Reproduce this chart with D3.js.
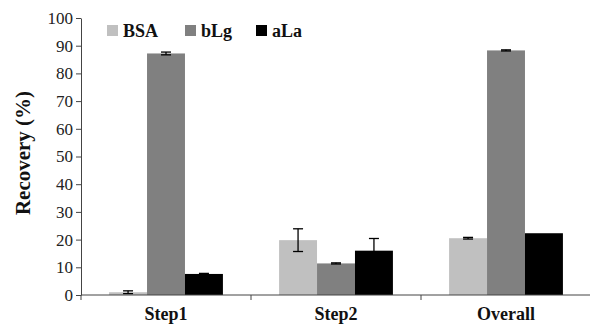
<!DOCTYPE html>
<html><head><meta charset="utf-8">
<script src="https://cdn.jsdelivr.net/npm/d3@7"></script>
<style>body{margin:0;background:#fff}svg{display:block}</style>
</head><body>
<script>
const categories = ["Step1", "Step2", "Overall"];
const seriesNames = ["BSA", "bLg", "aLa"];
const BSA = [1.0, 19.8, 20.5];
const bLg = [87.2, 11.4, 88.3];
const aLa = [7.6, 16.0, 22.3];
const BSA_err = [0.5, 4.1, 0.3];
const bLg_err = [0.5, 0.2, 0.2];
const aLa_err = [0.2, 4.4, 0];
const yTicks = [0,10,20,30,40,50,60,70,80,90,100];
const colors = ["#c0c0c0", "#808080", "#000000"];

const values = [BSA, bLg, aLa];
const errs = [BSA_err, bLg_err, aLa_err];
const W = 590, H = 326;
const FONT = '"Liberation Serif", "Times New Roman", serif';
const m = {left: 81, right: 0, top: 18, bottom: 31};
const svg = d3.select("body").append("svg").attr("width", W).attr("height", H);
const x = d3.scaleBand().domain(categories).range([m.left, 591]).paddingInner(0).paddingOuter(0);
const xs = d3.scaleBand().domain(seriesNames).range([0, x.bandwidth()]).paddingInner(0).paddingOuter(0.74);
const y = d3.scaleLinear().domain([0, 100]).range([H - m.bottom, m.top]);

// bars
seriesNames.forEach((s, si) => {
  const g = svg.append("g");
  g.selectAll("rect").data(categories).join("rect")
    .attr("x", c => x(c) + xs(s))
    .attr("width", xs.bandwidth())
    .attr("y", (c, i) => y(values[si][i]))
    .attr("height", (c, i) => y(0) - y(values[si][i]))
    .attr("fill", colors[si]);
  categories.forEach((c, i) => {
    const e = errs[si][i];
    if (e <= 0) return;
    const cx = x(c) + xs(s) + xs.bandwidth() / 2;
    const y1 = y(values[si][i] + e), y2 = y(values[si][i] - e);
    g.append("line").attr("x1", cx).attr("x2", cx).attr("y1", y1).attr("y2", y2).attr("stroke", "#000").attr("stroke-width", 1.3);
    [y1, y2].forEach(yy => g.append("line").attr("x1", cx - 5).attr("x2", cx + 5).attr("y1", yy).attr("y2", yy).attr("stroke", "#000").attr("stroke-width", 1.3));
  });
});

// y axis
const ya = svg.append("g").attr("transform", `translate(${m.left},0)`)
  .call(d3.axisLeft(y).tickValues(yTicks).tickSize(5).tickPadding(3).tickSizeOuter(0));
ya.selectAll("text").style("font-family", FONT).style("font-size", "17px").attr("fill", "#222");
ya.selectAll("line, path").attr("stroke", "#444");

// x axis
const xa = svg.append("g").attr("transform", `translate(0,${y(0)})`);
xa.append("line").attr("x1", m.left).attr("x2", 591).attr("y1", 0).attr("y2", 0).attr("stroke", "#444");
const bounds = categories.map(c => x(c)).concat([x(categories[categories.length-1]) + x.bandwidth()]);
xa.selectAll("line.sep").data(bounds).join("line").attr("class","sep")
  .attr("x1", d => d).attr("x2", d => d).attr("y1", 0).attr("y2", 5).attr("stroke", "#444");
xa.selectAll("text").data(categories).join("text")
  .attr("x", c => x(c) + x.bandwidth() / 2).attr("y", 25)
  .attr("text-anchor", "middle").style("font-family", FONT).style("font-weight", "bold")
  .style("font-size", "18px").attr("fill", "#111").text(c => c);

// y title
svg.append("text").attr("transform", `translate(30,153) rotate(-90)`)
  .attr("text-anchor", "middle").style("font-family", FONT).style("font-weight", "bold")
  .style("font-size", "21px").attr("fill", "#111").text("Recovery (%)");

// legend
const legX = [107, 185, 256];
seriesNames.forEach((s, i) => {
  svg.append("rect").attr("x", legX[i]).attr("y", 25).attr("width", 11).attr("height", 11).attr("fill", colors[i]);
  svg.append("text").attr("x", legX[i] + 16).attr("y", 37).style("font-family", FONT).style("font-weight", "bold")
    .style("font-size", "18px").attr("fill", "#111").text(s);
});
</script>
</body></html>
